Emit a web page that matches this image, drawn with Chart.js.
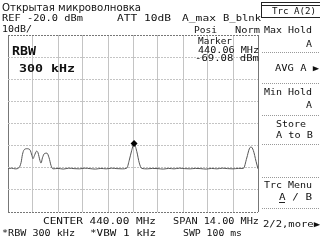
<!DOCTYPE html>
<html>
<head>
<meta charset="utf-8">
<script src="https://cdn.jsdelivr.net/npm/chart.js@4.4.1/dist/chart.umd.min.js"></script>
<style>
  html, body { margin: 0; padding: 0; background: #fff; }
</style>
</head>
<body>
<canvas id="mycanvas" width="320" height="240"></canvas>
<script>
// trace A (max hold)
var freqMHz = [433.0, 433.2, 433.4, 433.6, 433.73, 433.81, 433.9, 434.06, 434.23, 434.34,
  434.4, 434.48, 434.6, 434.68, 434.79, 434.85, 434.93, 435.04, 435.18, 435.3,
  435.41, 435.52, 435.8, 436.1, 436.4, 436.7, 437.0, 437.3, 437.6, 437.9,
  438.2, 438.5, 438.8, 439.1, 439.4, 439.65, 439.79, 439.93, 440.06, 440.21,
  440.35, 440.49, 440.8, 441.1, 441.4, 441.7, 442.0, 442.3, 442.6, 442.9,
  443.2, 443.5, 443.8, 444.1, 444.4, 444.7, 445.0, 445.3, 445.6, 445.9,
  446.18, 446.37, 446.51, 446.61, 446.74, 446.89, 447.0];
var levelDbm = [-80.4, -80.2, -80.5, -80.1, -77.7, -74.0, -71.9, -71.4, -71.9, -74.5,
  -75.9, -74.5, -72.5, -73.2, -76.8, -77.9, -75.5, -73.6, -73.4, -75.5,
  -79.0, -80.5, -80.3, -80.6, -80.2, -80.4, -80.5, -80.2, -80.4, -80.6,
  -80.3, -80.5, -80.2, -80.4, -80.5, -80.2, -76.6, -72.1, -69.08, -72.6,
  -77.8, -80.3, -80.5, -80.3, -80.4, -80.6, -80.3, -80.5, -80.2, -80.4,
  -80.5, -80.3, -80.4, -80.6, -80.3, -80.5, -80.2, -80.4, -80.5, -80.3,
  -80.3, -75.6, -71.5, -70.6, -72.2, -77.1, -80.5];

var markerFreq = 440.06;
var markerLevel = -69.08;

var xTicks = [433, 434.4, 435.8, 437.2, 438.6, 440, 441.4, 442.8, 444.2, 445.6, 447];
var yTicks = [-100, -90, -80, -70, -60, -50, -40, -30, -20];

var points = [];
for (var i in freqMHz) {
  points.push({ x: freqMHz[i], y: levelDbm[i] });
}

var MONO = '"DejaVu Sans Mono"';

function txt(c, s, x, y, w, font) {
  c.save();
  c.font = font;
  c.fillStyle = '#111';
  c.textBaseline = 'alphabetic';
  var m = c.measureText(s).width;
  var sx = w ? w / m : 1;
  c.translate(x, y);
  c.scale(sx, 1);
  c.fillText(s, 0, 0);
  c.restore();
}

function hline(c, x1, x2, y, dash, color) {
  c.save();
  c.strokeStyle = color || '#888';
  c.lineWidth = 1;
  c.setLineDash(dash || []);
  c.beginPath();
  c.moveTo(x1, y + 0.5);
  c.lineTo(x2, y + 0.5);
  c.stroke();
  c.restore();
}

var screenText = {
  id: 'screenText',
  afterDraw: function(chart) {
    var c = chart.ctx;
    var f9 = '9px ' + MONO;

    txt(c, 'Открытая микроволновка', 2, 11, 139, '10px "DejaVu Sans"');
    txt(c, 'REF -20.0 dBm', 2, 21, 81, f9);
    txt(c, 'ATT 10dB', 117, 21, 54, f9);
    txt(c, 'A_max', 182, 21, 34, f9);
    txt(c, 'B_blnk', 223, 21, 38, f9);
    txt(c, '10dB/', 2, 32, 30, f9);
    txt(c, 'Posi', 194, 33, 23, f9);
    txt(c, 'Norm', 235, 33, 25, f9);

    txt(c, 'RBW', 12, 55, 24, 'bold 12px ' + MONO);
    txt(c, '300 kHz', 19, 72, 56, 'bold 11px ' + MONO);

    txt(c, 'Marker', 198, 44, 34, f9);
    txt(c, '440.06 MHz', 198, 52.5, 61, f9);
    txt(c, '-69.08 dBm', 195, 60.5, 64, f9);

    txt(c, 'CENTER 440.00 MHz', 43, 224, 113, f9);
    txt(c, 'SPAN 14.00 MHz', 173, 224, 86, f9);
    txt(c, '*RBW 300 kHz', 2, 236, 73, f9);
    txt(c, '*VBW 1 kHz', 90, 236, 66, f9);
    txt(c, 'SWP 100 ms', 183, 236, 59, f9);

    // soft key panel
    hline(c, 262, 320, 2, [], '#222');
    hline(c, 262, 320, 5, [], '#222');
    hline(c, 261, 320, 17, [], '#222');
    c.save();
    c.strokeStyle = '#222';
    c.beginPath();
    c.moveTo(261.5, 2);
    c.lineTo(261.5, 18);
    c.stroke();
    c.restore();
    txt(c, 'Trc A(2)', 272, 14, 44, f9);

    txt(c, 'Max Hold', 264, 33, 48, f9);
    txt(c, 'A', 306, 47, 6, f9);
    txt(c, 'AVG A \u25B6', 275, 71, 44, f9);
    txt(c, 'Min Hold', 264, 95, 48, f9);
    txt(c, 'A', 306, 108, 6, f9);
    txt(c, 'Store', 276, 127, 30, f9);
    txt(c, 'A to B', 276, 138, 37, f9);
    txt(c, 'Trc Menu', 264, 188, 48, f9);
    txt(c, 'A / B', 279, 200, 33, f9);
    hline(c, 279, 285, 202, [], '#222');
    txt(c, '2/2,more\u25B6', 263, 227, 57, f9);

    var seps = [52, 83, 115, 144, 177, 208];
    for (var k in seps) {
      hline(c, 262, 320, seps[k], [1, 1], '#999');
    }
  }
};

var ctx = document.getElementById('mycanvas');

var edgeColor = function(c) {
  return (c.index === 0 || c.index === c.scale.ticks.length - 1) ? '#777' : '#c4c4c4';
};

var LineGraph = new Chart(ctx, {
  type: 'line',
  data: {
    datasets: [
      {
        label: 'marker',
        data: [{ x: markerFreq, y: markerLevel }],
        showLine: false,
        pointStyle: 'rectRot',
        pointRadius: 3.5,
        backgroundColor: '#000',
        borderColor: '#000',
        borderWidth: 0
      },
      {
        label: 'Trc A',
        data: points,
        fill: false,
        borderColor: '#555',
        borderWidth: 1,
        pointRadius: 0,
        cubicInterpolationMode: 'monotone'
      }
    ]
  },
  options: {
    responsive: false,
    animation: false,
    events: [],
    layout: { padding: { left: 8, top: 35, right: 62, bottom: 28 } },
    plugins: {
      legend: { display: false },
      tooltip: { enabled: false }
    },
    scales: {
      x: {
        type: 'linear',
        min: 433,
        max: 447,
        afterBuildTicks: function(scale) {
          scale.ticks = xTicks.map(function(v) { return { value: v }; });
        },
        ticks: { display: false },
        grid: { color: edgeColor, drawTicks: false, lineWidth: 1 },
        border: { display: false }
      },
      y: {
        min: -100,
        max: -20,
        afterBuildTicks: function(scale) {
          scale.ticks = yTicks.map(function(v) { return { value: v }; });
        },
        ticks: { display: false },
        grid: { color: edgeColor, drawTicks: false, lineWidth: 1 },
        border: { display: false, dash: [2, 1] }
      }
    }
  },
  plugins: [screenText]
});
</script>
</body>
</html>
